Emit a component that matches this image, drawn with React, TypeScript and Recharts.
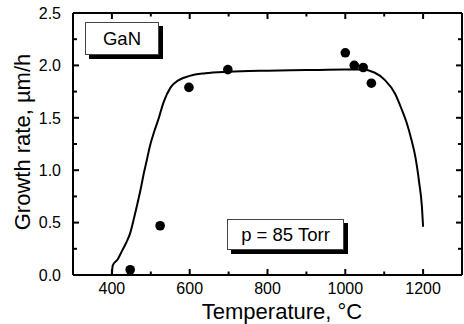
import { ComposedChart, Line, Scatter, XAxis, YAxis } from "recharts";

// measured growth rates
const temps = [447, 524, 598, 698, 1000, 1023, 1046, 1067];
const rates = [0.05, 0.47, 1.79, 1.96, 2.12, 2.0, 1.98, 1.83];

// fitted curve
const fitTemps = [
  400, 402, 415, 426, 437, 447, 456, 465, 474, 482, 490, 497, 508, 519, 533,
  551, 572, 600, 640, 700, 800, 900, 1000, 1042, 1076, 1102, 1128, 1145, 1158,
  1170, 1180, 1190, 1197, 1200,
];
const fitRates = [
  0.0, 0.09, 0.15, 0.23, 0.31, 0.4, 0.53, 0.67, 0.82, 0.97, 1.1, 1.22, 1.36,
  1.48, 1.65, 1.79, 1.86, 1.9, 1.925, 1.94, 1.95, 1.955, 1.96, 1.96, 1.93, 1.86,
  1.73, 1.58, 1.45, 1.29, 1.13, 0.88, 0.65, 0.46,
];

const xTicks = [300, 400, 500, 600, 700, 800, 900, 1000, 1100, 1200, 1300];
const xLabels = [400, 600, 800, 1000, 1200];
const yTicks = [0, 0.25, 0.5, 0.75, 1, 1.25, 1.5, 1.75, 2, 2.25, 2.5];
const yLabels = [0, 0.5, 1, 1.5, 2, 2.5];

const points = temps.map((t, i) => ({ t, v: rates[i] }));
const fit = fitTemps.map((t, i) => ({ t, v: fitRates[i] }));

const FONT = "'Liberation Sans', Arial, sans-serif";

const BottomTick = (p: any) => {
  const v = p.payload.value;
  const major = xLabels.includes(v);
  return (
    <g>
      <path d={`M${p.x},${p.y}V${p.y - (major ? 6 : 3.5)}`} stroke="#000" strokeWidth={2} fill="none" />
      {major && (
        <text x={p.x} y={p.y + 18.5} textAnchor="middle" fontSize={16} fontFamily={FONT} fill="#000">
          {v}
        </text>
      )}
    </g>
  );
};

const TopTick = (p: any) => {
  const major = xLabels.includes(p.payload.value);
  return <path d={`M${p.x},${p.y}V${p.y + (major ? 6 : 3.5)}`} stroke="#000" strokeWidth={2} fill="none" />;
};

const LeftTick = (p: any) => {
  const v = p.payload.value;
  const major = yLabels.includes(v);
  return (
    <g>
      <path d={`M${p.x},${p.y}H${p.x + (major ? 6 : 4)}`} stroke="#000" strokeWidth={2} fill="none" />
      {major && (
        <text x={p.x - 12} y={p.y + 5.8} textAnchor="end" fontSize={16} fontFamily={FONT} fill="#000">
          {v.toFixed(1)}
        </text>
      )}
    </g>
  );
};

const RightTick = (p: any) => {
  const major = yLabels.includes(p.payload.value);
  return <path d={`M${p.x},${p.y}H${p.x - (major ? 6 : 4)}`} stroke="#000" strokeWidth={2} fill="none" />;
};

const boxStyle = (left: number, top: number, w: number, h: number) => ({
  position: "absolute" as const,
  left,
  top,
  width: w,
  height: h,
  boxSizing: "border-box" as const,
  border: "1px solid #444",
  background: "#fff",
  boxShadow: "4px 4px 0 #000",
  display: "flex",
  alignItems: "center",
  justifyContent: "center",
  fontSize: 18.5,
  color: "#000",
});

export default function App() {
  return (
    <div style={{ position: "absolute", left: 0, top: 0, width: 464, height: 324, background: "#fff", fontFamily: FONT }}>
      <ComposedChart width={464} height={324} margin={{ top: 12, right: 1, bottom: 0, left: 0 }}>
        <XAxis
          xAxisId={0}
          type="number"
          dataKey="t"
          domain={[300, 1300]}
          allowDataOverflow
          ticks={xTicks}
          interval={0}
          height={49}
          tickSize={0}
          tickMargin={0}
          tickLine={false}
          axisLine={{ stroke: "#000", strokeWidth: 2 }}
          tick={BottomTick}
        />
        <XAxis
          xAxisId="top"
          orientation="top"
          type="number"
          dataKey="t"
          domain={[300, 1300]}
          allowDataOverflow
          ticks={xTicks}
          interval={0}
          height={1}
          tickSize={0}
          tickMargin={0}
          tickLine={false}
          axisLine={{ stroke: "#000", strokeWidth: 2 }}
          tick={TopTick}
        />
        <YAxis
          yAxisId={0}
          type="number"
          domain={[0, 2.5]}
          allowDataOverflow
          ticks={yTicks}
          interval={0}
          width={73}
          tickSize={0}
          tickMargin={0}
          tickLine={false}
          axisLine={{ stroke: "#000", strokeWidth: 2 }}
          tick={LeftTick}
        />
        <YAxis
          yAxisId="right"
          orientation="right"
          type="number"
          domain={[0, 2.5]}
          allowDataOverflow
          ticks={yTicks}
          interval={0}
          width={1}
          tickSize={0}
          tickMargin={0}
          tickLine={false}
          axisLine={{ stroke: "#000", strokeWidth: 2 }}
          tick={RightTick}
        />
        {/* invisible copy so the mirrored frame axes have a series */}
        <Line
          xAxisId="top"
          yAxisId="right"
          data={fit}
          dataKey="v"
          stroke="none"
          dot={false}
          legendType="none"
          isAnimationActive={false}
        />
        <Line
          data={fit}
          dataKey="v"
          type="monotone"
          stroke="#000"
          strokeWidth={2}
          dot={false}
          isAnimationActive={false}
        />
        <Scatter
          data={points}
          dataKey="v"
          fill="#000"
          isAnimationActive={false}
          shape={(p: any) => <circle cx={p.cx} cy={p.cy} r={4.8} fill="#000" />}
        />
      </ComposedChart>
      <div style={boxStyle(85, 22, 74, 33)}>GaN</div>
      <div style={boxStyle(227, 219, 117, 31)}>p = 85 Torr</div>
      <div
        style={{
          position: "absolute",
          left: 282,
          top: 312,
          transform: "translate(-50%, -50%)",
          whiteSpace: "nowrap",
          fontSize: 22,
          color: "#000",
        }}
      >
        Temperature, °C
      </div>
      <div
        style={{
          position: "absolute",
          left: 22.5,
          top: 142,
          transform: "translate(-50%, -50%) rotate(-90deg)",
          whiteSpace: "nowrap",
          fontSize: 22,
          color: "#000",
        }}
      >
        Growth rate, µm/h
      </div>
    </div>
  );
}
